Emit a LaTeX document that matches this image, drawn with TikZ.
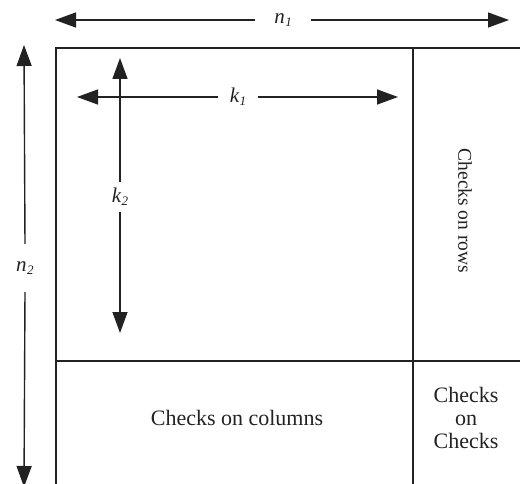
\documentclass[tikz,border=0pt]{standalone}
\usepackage{fontspec}
\setmainfont{Liberation Serif}
\usetikzlibrary{arrows.meta}
\definecolor{ink}{HTML}{222222}
\tikzset{
  frame/.style={draw=ink, line width=1.4pt},
  dimline/.style={draw=ink, line width=1.4pt, -{Triangle[length=21pt,width=15pt]}},
  dimlabel/.style={inner sep=0pt, font=\fontsize{21}{24}\selectfont\itshape, text=ink},
  region/.style={align=center, inner sep=0pt, font=\fontsize{22}{23}\selectfont, text=ink},
}
\newcommand{\dimtxt}[2]{#1\kern0.5pt\raisebox{-0.3ex}{\fontsize{13}{15}\selectfont #2}}
\begin{document}
\begin{tikzpicture}[x=1pt,y=-1pt]
  \useasboundingbox (0,0) rectangle (520,484);
  \clip (0,0) rectangle (520,484);

  % block outline and partitions
  \coordinate (tl) at (56,48);
  \coordinate (tr) at (540,48);
  \coordinate (bl) at (56,500);
  \coordinate (vtop) at (413,48);
  \coordinate (vbot) at (413,500);
  \coordinate (hleft) at (56,361);
  \coordinate (hright) at (540,361);
  \draw[frame] (bl) -- (tl) -- (tr);
  \draw[frame] (vtop) -- (vbot);
  \draw[frame] (hleft) -- (hright);

  % overall dimensions
  \coordinate (n1L) at (55,20);
  \coordinate (n1R) at (509,20);
  \node[dimlabel, minimum width=55pt] (n1) at (283,20) {\dimtxt{n}{1}};
  \draw[dimline] (n1.west) -- (n1L);
  \draw[dimline] (n1.east) -- (n1R);

  \coordinate (n2T) at (24,45);
  \coordinate (n2B) at (24,487);
  \node[dimlabel, minimum height=48pt] (n2) at (25,268) {\dimtxt{n}{2}};
  \draw[dimline] (n2.north) -- (n2T);
  \draw[dimline] (n2.south) -- (n2B);

  % information block dimensions
  \coordinate (k1L) at (77,97);
  \coordinate (k1R) at (398,97);
  \node[dimlabel, minimum width=39pt] (k1) at (238,97) {\dimtxt{k}{1}};
  \draw[dimline] (k1.west) -- (k1L);
  \draw[dimline] (k1.east) -- (k1R);

  \coordinate (k2T) at (120,58);
  \coordinate (k2B) at (120,333);
  \node[dimlabel, minimum height=29pt] (k2) at (120,197) {\dimtxt{k}{2}};
  \draw[dimline] (k2.north) -- (k2T);
  \draw[dimline] (k2.south) -- (k2B);

  % region captions
  \node[region, rotate=-90, font=\fontsize{19.5}{22}\selectfont] (rows) at (465,211) {Checks on rows};
  \node[region] (cols) at (237,418) {Checks on columns};
  \node[region] (cc) at (466,418) {Checks\\on\\Checks};
\end{tikzpicture}
\end{document}
